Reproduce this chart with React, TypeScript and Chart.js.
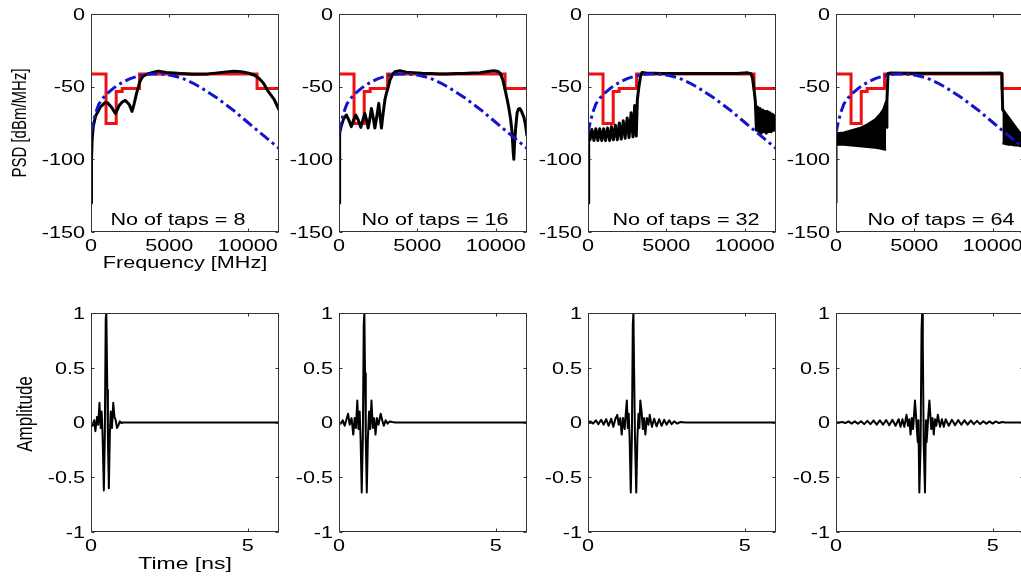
import React, { useEffect, useRef } from "react";
import { Chart, registerables } from "chart.js";
Chart.register(...registerables);

type Pt = [number, number];

// ---------------- data ----------------
const freqTicks = [0, 5000, 10000];
const psdTicks = [-150, -100, -50, 0];
const timeTicks = [0, 5];
const ampTicks = [-1, -0.5, 0, 0.5, 1];
const tapLabels = ["No of taps = 8", "No of taps = 16", "No of taps = 32", "No of taps = 64"];

// FCC indoor mask: level that applies up to each band edge (MHz, dBm/MHz)
const maskPsd: Pt[] = [[0, -41.3], [960, -75.3], [1610, -53.3], [1990, -51.3], [3100, -41.3], [10600, -51.3], [12000, -51.3]];

// Gaussian pulse PSD (dash-dot)
const gaussPsd: Pt[] = [
  [0, -82], [150, -74], [300, -68], [500, -62], [750, -58], [1000, -55], [1500, -50.5], [2000, -47], [2500, -44.5],
  [3000, -42.8], [3500, -41.7], [4000, -41.2], [4500, -41.3], [5000, -42], [5500, -43.2], [6000, -45], [6500, -47.5],
  [7000, -50.5], [7500, -54], [8000, -57.5], [8500, -61.5], [9000, -65.5], [9500, -70], [10000, -74.5], [10500, -79],
  [11000, -83.5], [11500, -88], [12000, -92.5],
];

const psd8: Pt[] = [
  [0, -130], [30, -100], [80, -85], [150, -77], [300, -70], [600, -64], [900, -61], [1050, -61], [1300, -64], [1560, -68.5],
  [1800, -63], [2000, -60.5], [2200, -59.5], [2450, -62.5], [2620, -67], [2750, -62], [2900, -55], [3100, -47], [3300, -43],
  [3600, -41.3], [4000, -40], [4300, -39.3], [4800, -40.3], [5500, -40.8], [6500, -41.4], [7500, -41.2], [8500, -40],
  [9100, -39.4], [9600, -39.7], [10000, -40.5], [10400, -42], [10700, -44], [11000, -47.5], [11300, -53], [11700, -59], [12000, -66],
];

const psd16: Pt[] = [
  [0, -130], [20, -100], [60, -82], [150, -77], [300, -72], [470, -69.5], [630, -73], [790, -77.5], [930, -73], [1070, -69.5],
  [1230, -73], [1390, -78], [1520, -73], [1650, -68.5], [1760, -73], [1860, -78.5], [1970, -72], [2070, -65], [2180, -71],
  [2290, -78.5], [2420, -70], [2540, -61.5], [2620, -70], [2710, -78.5], [2820, -68], [2930, -59], [3030, -54.5], [3150, -50],
  [3250, -45.5], [3400, -42], [3570, -39.7], [3890, -39], [4300, -40], [4740, -40.4], [5300, -40.8], [5810, -40.9], [6400, -41.2],
  [6880, -41.3], [7500, -41], [7950, -40.9], [8500, -40.6], [9020, -40.4], [9500, -39.5], [9870, -39], [10150, -39.5], [10300, -41],
  [10450, -45], [10560, -50], [10700, -57], [10830, -64], [10950, -72], [11050, -82], [11120, -95], [11160, -100], [11200, -90],
  [11280, -78], [11370, -68], [11450, -65.5], [11540, -65], [11650, -67], [11800, -71], [11900, -76], [12000, -84],
];

const psd32: Pt[] = [
  [0, -130], [25, -100], [60, -80], [130, -86.5], [250, -79.5], [380, -87], [500, -79], [630, -87], [750, -79], [880, -87],
  [1000, -79], [1120, -87], [1250, -78.5], [1380, -87], [1500, -77.5], [1620, -86.5], [1750, -76.5], [1870, -86.5], [2000, -75],
  [2120, -86], [2250, -73.5], [2370, -85.5], [2500, -71.5], [2620, -85], [2750, -68], [2870, -84.5], [2980, -63], [3080, -84],
  [3150, -59], [3250, -50], [3350, -43], [3450, -40.3], [3700, -40.6], [4200, -40.8], [4700, -41], [5500, -41], [6500, -41],
  [7500, -41], [8500, -41], [9500, -41], [10200, -40.5], [10400, -41], [10500, -44], [10600, -52], [10680, -60], [10750, -80],
  [10820, -64], [10900, -81], [10980, -65], [11060, -82], [11140, -66], [11220, -81], [11300, -67], [11380, -82], [11460, -67],
  [11540, -81], [11620, -68], [11700, -81], [11780, -69], [11860, -80], [11940, -70], [12000, -75],
];

const psd64Main: Pt[] = [
  [0, -130], [0, -86], [3200, -78], [3250, -60], [3320, -41], [3500, -40.6], [5000, -40.8], [7000, -40.8], [9000, -40.8],
  [10500, -40.6], [10580, -41], [10640, -66], [12000, -86],
];
const psd64LowUpper: Pt[] = [[10, -82], [500, -81.5], [1000, -80], [1500, -78.5], [2000, -76], [2500, -72.5], [2800, -69], [3000, -66], [3200, -60]];
const psd64LowLower: Pt[] = [[10, -90], [500, -90], [1000, -90.5], [1500, -91], [2000, -91.5], [2500, -92], [2800, -92.5], [3000, -93], [3200, -93.5]];
const psd64HighUpper: Pt[] = [[10620, -64], [10800, -69], [11000, -73], [11200, -76], [11400, -78.5], [11600, -80.5], [11800, -82], [12000, -83]];
const psd64HighLower: Pt[] = [[10620, -89], [10800, -89.5], [11000, -90], [11200, -90], [11400, -90.5], [11600, -90.5], [11800, -91], [12000, -91.5]];

// impulse responses (ns, amplitude)
const imp8: Pt[] = [
  [0, 0], [0.05, -0.03], [0.1, 0.02], [0.14, -0.08], [0.19, 0.05], [0.23, -0.02], [0.27, 0.18], [0.31, -0.05], [0.34, 0.1],
  [0.37, -0.12], [0.41, -0.62], [0.44, -0.15], [0.47, 0.95], [0.49, 1.0], [0.52, 0.3], [0.54, -0.15], [0.57, -0.6], [0.6, -0.12],
  [0.63, 0.1], [0.67, -0.05], [0.71, 0.18], [0.75, 0.05], [0.79, 0.02], [0.83, -0.05], [0.87, -0.03], [0.92, 0.01], [0.97, -0.005],
  [1.02, 0], [6, 0],
];
const imp16: Pt[] = [
  [0, 0], [0.06, -0.01], [0.12, 0.02], [0.18, -0.03], [0.24, 0.03], [0.29, 0.08], [0.34, -0.02], [0.4, 0.04], [0.455, -0.11],
  [0.5, 0.04], [0.54, -0.05], [0.584, 0.2], [0.62, -0.06], [0.66, 0.1], [0.69, -0.16], [0.725, -0.64], [0.76, -0.15], [0.79, 0.9],
  [0.81, 1.0], [0.83, 0.45], [0.855, -0.15], [0.887, -0.64], [0.92, -0.16], [0.96, 0.1], [0.995, -0.06], [1.036, 0.2], [1.08, -0.05],
  [1.12, 0.04], [1.165, -0.11], [1.21, 0.04], [1.26, -0.02], [1.33, 0.08], [1.38, 0.02], [1.43, -0.03], [1.49, 0.02], [1.55, -0.01],
  [1.62, 0.01], [1.7, 0.005], [1.8, 0], [6, 0],
];
const imp32: Pt[] = [
  [0, 0], [0.08, 0.01], [0.16, -0.01], [0.25, 0.02], [0.33, -0.015], [0.42, 0.025], [0.5, -0.02], [0.58, 0.03], [0.66, -0.03],
  [0.74, 0.035], [0.81, -0.04], [0.87, 0.03], [0.935, 0.07], [0.98, -0.02], [1.03, 0.04], [1.075, -0.11], [1.12, 0.04],
  [1.17, -0.06], [1.21, 0.1], [1.24, 0.2], [1.27, -0.05], [1.3, 0.08], [1.33, -0.16], [1.365, -0.64], [1.4, -0.15], [1.43, 0.9],
  [1.45, 1.0], [1.47, 0.5], [1.5, -0.15], [1.54, -0.64], [1.575, -0.16], [1.61, 0.08], [1.64, -0.05], [1.67, 0.2], [1.71, 0.1],
  [1.75, -0.06], [1.79, 0.04], [1.83, -0.11], [1.88, 0.04], [1.93, -0.02], [1.97, 0.07], [2.04, -0.04], [2.11, 0.035],
  [2.19, -0.035], [2.27, 0.03], [2.35, -0.03], [2.43, 0.025], [2.51, -0.02], [2.59, 0.02], [2.67, -0.015], [2.75, 0.01],
  [2.85, -0.01], [2.95, 0.005], [3.1, 0], [6, 0],
];
const imp64: Pt[] = [
  [0, 0], [0.1, 0], [0.2, 0.005], [0.3, -0.005], [0.4, 0.01], [0.5, -0.01], [0.6, 0.01], [0.7, -0.012], [0.8, 0.012], [0.9, -0.015],
  [1.0, 0.015], [1.1, -0.015], [1.2, 0.018], [1.3, -0.02], [1.4, 0.02], [1.5, -0.02], [1.6, 0.022], [1.7, -0.025], [1.8, 0.025],
  [1.9, -0.03], [2.0, 0.03], [2.06, -0.04], [2.12, 0.03], [2.18, -0.04], [2.25, 0.07], [2.3, -0.03], [2.34, 0.03], [2.38, -0.11],
  [2.42, 0.04], [2.46, -0.06], [2.52, 0.2], [2.55, 0.08], [2.58, -0.06], [2.61, -0.18], [2.63, 0.02], [2.66, -0.64], [2.7, -0.2],
  [2.73, 0.85], [2.75, 1.0], [2.77, 0.7], [2.8, -0.2], [2.84, -0.64], [2.87, 0.02], [2.89, -0.18], [2.92, -0.06], [2.95, 0.08],
  [2.98, 0.2], [3.04, -0.06], [3.08, 0.04], [3.12, -0.11], [3.16, 0.03], [3.2, -0.03], [3.25, 0.07], [3.32, -0.04], [3.38, 0.03],
  [3.44, -0.04], [3.5, 0.03], [3.6, -0.03], [3.7, 0.025], [3.8, -0.025], [3.9, 0.022], [4.0, -0.02], [4.1, 0.02], [4.2, -0.02],
  [4.3, 0.018], [4.4, -0.015], [4.5, 0.015], [4.6, -0.015], [4.7, 0.012], [4.8, -0.012], [4.9, 0.01], [5.0, -0.01], [5.1, 0.01],
  [5.2, -0.005], [5.3, 0.005], [5.4, 0], [6, 0],
];

// ---------------- layout & style ----------------
const PAGE_W = 1021;
const PAGE_H = 576;
const CANVAS_W = 1040;
const COL_LEFT = [91, 339, 588, 836];
const PLOT_W = 188;
const ROW_TOP = [14, 313];
const ROW_BOTTOM = [232, 532];
const NOTE_X = [5550, 6130, 6255, 6700];
const NOTE_Y = -141.4;
const FONT = '"Liberation Sans", Arial, Helvetica, sans-serif';
const SX = 1.35;
const RED = "#ee1111";
const BLUE = "#1414cc";

const xy = (p: Pt[]) => p.map(([x, y]) => ({ x, y }));

function stretchedText(ctx: CanvasRenderingContext2D, s: string, x: number, y: number, align: CanvasTextAlign, rotate = false) {
  ctx.save();
  ctx.translate(x, y);
  ctx.scale(SX, 1);
  if (rotate) ctx.rotate(-Math.PI / 2);
  ctx.textAlign = align;
  ctx.textBaseline = rotate ? "middle" : "alphabetic";
  ctx.fillText(s, 0, 0);
  ctx.restore();
}

const matlabAxes = {
  id: "matlabAxes",
  afterDraw(chart: any, _args: any, o: any) {
    const { ctx, chartArea: a, scales } = chart;
    const xs = scales.x;
    const ys = scales.y;
    const l = Math.round(a.left) + 0.5;
    const r = Math.round(a.right) - 0.5;
    const t = Math.round(a.top) + 0.5;
    const b = Math.round(a.bottom) - 0.5;
    ctx.save();
    ctx.strokeStyle = "#333";
    ctx.lineWidth = 1;
    ctx.strokeRect(l, t, r - l, b - t);
    ctx.beginPath();
    xs.ticks.forEach((tk: any) => {
      const p = Math.round(xs.getPixelForValue(tk.value)) + 0.5;
      ctx.moveTo(p, b); ctx.lineTo(p, b - 3);
      ctx.moveTo(p, t); ctx.lineTo(p, t + 3);
    });
    ys.ticks.forEach((tk: any) => {
      const p = Math.round(ys.getPixelForValue(tk.value)) + 0.5;
      ctx.moveTo(l, p); ctx.lineTo(l + 3, p);
      ctx.moveTo(r, p); ctx.lineTo(r - 3, p);
    });
    ctx.stroke();
    ctx.fillStyle = "#000";
    ctx.font = `16px ${FONT}`;
    xs.ticks.forEach((tk: any) => stretchedText(ctx, String(tk.value), xs.getPixelForValue(tk.value), a.bottom + 18.5, "center"));
    ys.ticks.forEach((tk: any) => stretchedText(ctx, String(tk.value), a.left - 6, ys.getPixelForValue(tk.value) + 5.8, "right"));
    if (o.note) {
      stretchedText(ctx, o.note, xs.getPixelForValue(o.noteX), ys.getPixelForValue(o.noteY) + 5.8, "center");
    }
    if (o.xTitle) {
      ctx.font = `${o.xTitleSize}px ${FONT}`;
      stretchedText(ctx, o.xTitle, (a.left + a.right) / 2, o.xTitleY, "center");
    }
    if (o.yTitle) {
      ctx.font = `${o.yTitleSize}px ${FONT}`;
      stretchedText(ctx, o.yTitle, o.yTitleX, o.yTitleCY, "center", true);
    }
    ctx.restore();
  },
};

function lineDs(data: Pt[], color: string, width: number, order: number, extra: any = {}) {
  return {
    data: xy(data),
    borderColor: color,
    backgroundColor: color,
    borderWidth: width,
    pointRadius: 0,
    tension: 0,
    fill: false,
    order,
    borderJoinStyle: "round",
    ...extra,
  };
}

function buildConfig(row: number, col: number): any {
  const L = COL_LEFT[col];
  const R = L + PLOT_W;
  const T = ROW_TOP[row];
  const B = ROW_BOTTOM[row];
  const top = row === 0;
  let datasets: any[];
  if (top) {
    const black = [psd8, psd16, psd32, psd64Main][col];
    datasets = [
      lineDs(gaussPsd, BLUE, 3, 0, { borderDash: [11, 4, 3, 4] }),
      lineDs(black, "#000", 3, 1),
      lineDs(maskPsd, RED, 3, 5, { stepped: "before", borderJoinStyle: "miter" }),
    ];
    if (col === 3) {
      datasets.push(lineDs(psd64LowUpper, "#000", 2, 2, { fill: "+1" }));
      datasets.push(lineDs(psd64LowLower, "#000", 2, 2));
      datasets.push(lineDs(psd64HighUpper, "#000", 2, 2, { fill: "+1" }));
      datasets.push(lineDs(psd64HighLower, "#000", 2, 2));
    }
  } else {
    datasets = [lineDs([imp8, imp16, imp32, imp64][col], "#000", 2, 0)];
  }
  const xTicks = top ? freqTicks : timeTicks;
  const yTicks = top ? psdTicks : ampTicks;
  const axisOpts: any = {
    note: top ? tapLabels[col] : null,
    noteX: NOTE_X[col],
    noteY: NOTE_Y,
  };
  if (col === 0) {
    if (top) {
      Object.assign(axisOpts, { xTitle: "Frequency [MHz]", xTitleSize: 16, xTitleY: 268, yTitle: "PSD [dBm/MHz]", yTitleSize: 15, yTitleX: 20, yTitleCY: 123 });
    } else {
      Object.assign(axisOpts, { xTitle: "Time [ns]", xTitleSize: 17, xTitleY: 569, yTitle: "Amplitude", yTitleSize: 17, yTitleX: 26, yTitleCY: 414 });
    }
  }
  const hidden = {
    grid: { display: false },
    border: { display: false },
    ticks: { display: false },
  };
  return {
    type: "line",
    data: { datasets },
    plugins: [matlabAxes],
    options: {
      responsive: false,
      animation: false,
      events: [],
      layout: { padding: { left: L, top: T, right: CANVAS_W - R, bottom: PAGE_H - B } },
      plugins: { legend: { display: false }, tooltip: { enabled: false }, matlabAxes: axisOpts },
      scales: {
        x: {
          type: "linear",
          min: 0,
          max: top ? 12000 : 6,
          ...hidden,
          afterFit: (s: any) => { s.height = 0; },
          afterBuildTicks: (s: any) => { s.ticks = xTicks.map((v) => ({ value: v })); },
        },
        y: {
          type: "linear",
          min: top ? -150 : -1,
          max: top ? 0 : 1,
          ...hidden,
          afterFit: (s: any) => { s.width = 0; },
          afterBuildTicks: (s: any) => { s.ticks = yTicks.map((v) => ({ value: v })); },
        },
      },
    },
  };
}

function Panel({ row, col }: { row: number; col: number }) {
  const ref = useRef<HTMLCanvasElement | null>(null);
  useEffect(() => {
    if (!ref.current) return;
    const chart = new Chart(ref.current, buildConfig(row, col));
    return () => chart.destroy();
  }, [row, col]);
  return (
    <canvas
      ref={ref}
      width={CANVAS_W}
      height={PAGE_H}
      style={{ position: "absolute", left: 0, top: 0, width: CANVAS_W, height: PAGE_H }}
    />
  );
}

export default function App() {
  useEffect(() => {
    document.body.style.margin = "0";
    document.body.style.overflow = "hidden";
  }, []);
  const panels: React.ReactElement[] = [];
  for (let r = 0; r < 2; r++) for (let c = 0; c < 4; c++) panels.push(<Panel key={`${r}-${c}`} row={r} col={c} />);
  return (
    <div style={{ position: "fixed", left: 0, top: 0, width: PAGE_W, height: PAGE_H, overflow: "hidden", background: "#fff" }}>
      {panels}
    </div>
  );
}
